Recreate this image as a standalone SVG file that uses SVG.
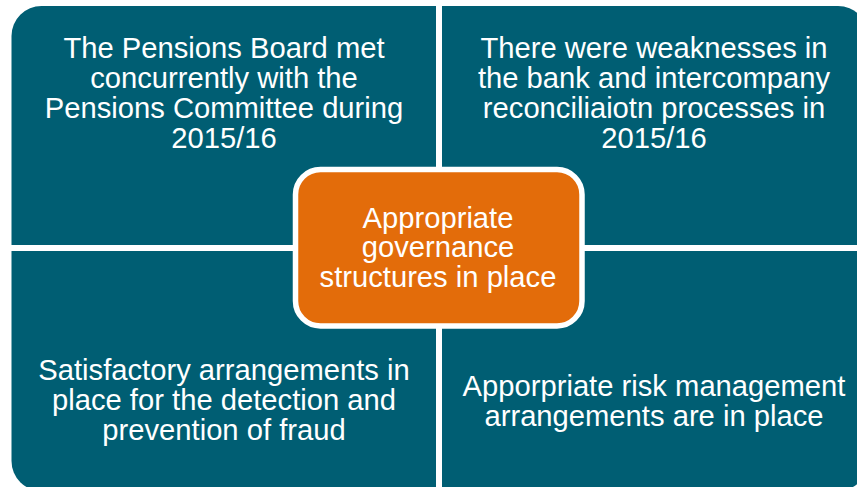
<svg xmlns="http://www.w3.org/2000/svg" width="857" height="487" viewBox="0 0 857 487">
<style>
.q{fill:#005E73}
.t{fill:#FFFFFF;font-family:"Liberation Sans",Arial,sans-serif;font-size:29.2px;text-anchor:middle}
.c{fill:#E36C0A;stroke:#FFFFFF;stroke-width:5.5}
</style>
<rect width="857" height="487" fill="#FFFFFF"/>
<g id="top-left">
<path class="q" d="M11.5,36 A30,30 0 0 1 41.5,6 H436 V245 H11.5 Z"/>
<text class="t" x="224" y="58">The Pensions Board met</text>
<text class="t" x="224" y="88">concurrently with the</text>
<text class="t" x="224" y="118">Pensions Committee during</text>
<text class="t" x="224" y="148">2015/16</text>
</g>
<g id="top-right">
<path class="q" d="M442,6 H838 A30,30 0 0 1 868,36 V245 H442 Z"/>
<text class="t" x="654" y="58">There were weaknesses in</text>
<text class="t" x="654" y="88">the bank and intercompany</text>
<text class="t" x="654" y="118">reconciliaiotn processes in</text>
<text class="t" x="654" y="148">2015/16</text>
</g>
<g id="bottom-left">
<path class="q" d="M11.5,251 H436 V491 H41.5 A30,30 0 0 1 11.5,461 Z"/>
<text class="t" x="224" y="380">Satisfactory arrangements in</text>
<text class="t" x="224" y="410">place for the detection and</text>
<text class="t" x="224" y="440">prevention of fraud</text>
</g>
<g id="bottom-right">
<path class="q" d="M442,251 H868 V461 A30,30 0 0 1 838,491 H442 Z"/>
<text class="t" x="654" y="396">Apporpriate risk management</text>
<text class="t" x="654" y="426">arrangements are in place</text>
</g>
<g id="center">
<rect class="c" x="295.5" y="169.5" width="286.5" height="156.5" rx="25" ry="25"/>
<text class="t" x="438" y="228">Appropriate</text>
<text class="t" x="438" y="257">governance</text>
<text class="t" x="438" y="287">structures in place</text>
</g>
<g id="connectors"></g>
</svg>
